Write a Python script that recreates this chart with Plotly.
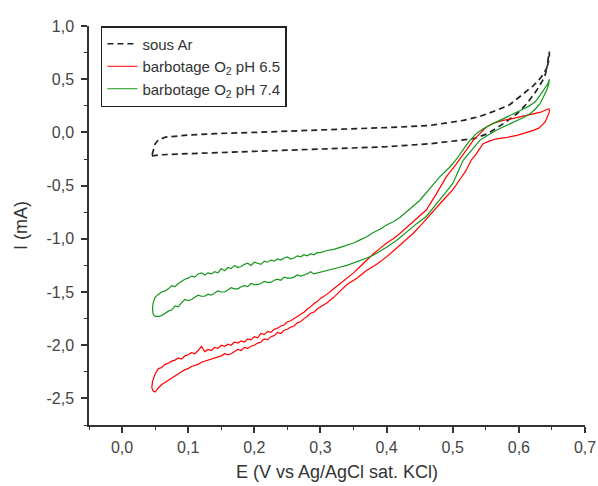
import plotly.graph_objects as go

# ---- data (E in V vs Ag/AgCl, I in mA) ----
ar_E = [0.045, 0.06, 0.10, 0.15, 0.20, 0.25, 0.30, 0.35, 0.40, 0.466, 0.506, 0.531, 0.553, 0.576, 0.597,
        0.612, 0.627, 0.639, 0.644, 0.646,
        0.646, 0.642, 0.634, 0.622, 0.607, 0.586, 0.566, 0.541, 0.516, 0.466, 0.42, 0.36, 0.30, 0.25,
        0.20, 0.14, 0.10, 0.066, 0.055, 0.05, 0.045]
ar_I = [-0.22, -0.21, -0.20, -0.19, -0.175, -0.165, -0.155, -0.145, -0.135, -0.106, -0.075, -0.06, -0.012, 0.08, 0.175,
        0.27, 0.395, 0.52, 0.646, 0.70,
        0.76, 0.60, 0.52, 0.44, 0.364, 0.26, 0.207, 0.15, 0.113, 0.066, 0.05, 0.035, 0.02, 0.008,
        0.0, -0.012, -0.025, -0.044, -0.07, -0.107, -0.22]

o2_74_E = [0.047, 0.050, 0.055, 0.060, 0.065, 0.070, 0.075, 0.080, 0.085, 0.090, 0.095, 0.100, 0.105, 0.110,
           0.115, 0.120, 0.125, 0.130, 0.135, 0.140, 0.145, 0.150, 0.155, 0.160, 0.165, 0.170, 0.175, 0.180,
           0.185, 0.190, 0.195, 0.200, 0.205, 0.210, 0.215, 0.220, 0.225, 0.230, 0.235,
           0.240, 0.245, 0.250, 0.255, 0.260, 0.265, 0.270, 0.275, 0.280, 0.285, 0.290, 0.295, 0.300, 0.310,
           0.320, 0.330, 0.340, 0.350, 0.360, 0.370,
           0.380, 0.390, 0.400, 0.410, 0.420, 0.435, 0.450, 0.465, 0.480, 0.495, 0.506, 0.516, 0.526, 0.536,
           0.546, 0.560, 0.571, 0.585, 0.597, 0.607, 0.617, 0.625, 0.632, 0.638, 0.644, 0.646,
           0.645, 0.642, 0.637, 0.632, 0.625, 0.617, 0.607, 0.597, 0.586, 0.576, 0.566, 0.556, 0.548, 0.541,
           0.533, 0.526, 0.516, 0.508, 0.500, 0.490, 0.480, 0.470, 0.460, 0.445, 0.430, 0.415, 0.400, 0.390,
           0.379, 0.370, 0.359, 0.350, 0.340, 0.329, 0.320, 0.310, 0.300, 0.295, 0.290, 0.285, 0.280, 0.275,
           0.270, 0.265, 0.260, 0.255, 0.250, 0.245,
           0.240, 0.235, 0.230, 0.225, 0.220, 0.215, 0.210, 0.205, 0.200, 0.195, 0.190, 0.185, 0.180, 0.175,
           0.170, 0.165, 0.160, 0.155, 0.150, 0.145, 0.140, 0.135, 0.130, 0.125, 0.120, 0.115, 0.110, 0.105,
           0.100, 0.095, 0.090, 0.085, 0.080, 0.075, 0.070, 0.065, 0.060, 0.055, 0.050, 0.047, 0.046, 0.047]
o2_74_I = [-1.60, -1.55, -1.52, -1.50, -1.49, -1.47, -1.44, -1.45, -1.42, -1.40, -1.38, -1.37, -1.35, -1.36,
           -1.33, -1.32, -1.34, -1.32, -1.33, -1.31, -1.32, -1.28, -1.30, -1.27, -1.28, -1.25, -1.27, -1.26,
           -1.24, -1.23, -1.25, -1.22, -1.23, -1.24, -1.21, -1.22, -1.20, -1.21, -1.19,
           -1.20, -1.18, -1.17, -1.19, -1.18, -1.16, -1.17, -1.15, -1.16, -1.14, -1.15, -1.13, -1.13, -1.11,
           -1.10, -1.08, -1.06, -1.04, -1.01, -0.98,
           -0.94, -0.91, -0.87, -0.84, -0.80, -0.72, -0.64, -0.53, -0.42, -0.33, -0.25, -0.16, -0.075, -0.01,
           0.035, 0.08, 0.113, 0.15, 0.19, 0.22, 0.254, 0.29, 0.348, 0.40, 0.46, 0.50,
           0.45, 0.395, 0.33, 0.27, 0.22, 0.176, 0.14, 0.113, 0.08, 0.05, 0.02, -0.012, -0.045, -0.075,
           -0.13, -0.185, -0.26, -0.37, -0.48, -0.56, -0.64, -0.72, -0.79, -0.86, -0.94, -1.016, -1.08, -1.12,
           -1.157, -1.18, -1.204, -1.23, -1.25, -1.267, -1.28, -1.30, -1.31, -1.32, -1.33, -1.31, -1.33, -1.34,
           -1.35, -1.34, -1.36, -1.37, -1.37, -1.36,
           -1.39, -1.38, -1.39, -1.41, -1.41, -1.40, -1.42, -1.43, -1.43, -1.42, -1.45, -1.44, -1.45, -1.47,
           -1.47, -1.46, -1.48, -1.50, -1.50, -1.49, -1.51, -1.53, -1.52, -1.54, -1.54, -1.53, -1.55, -1.57,
           -1.58, -1.57, -1.60, -1.64, -1.63, -1.67, -1.68, -1.70, -1.72, -1.73, -1.73, -1.71, -1.66, -1.60]

o2_65_E = [0.046, 0.050, 0.055, 0.060, 0.065, 0.070, 0.075, 0.080, 0.085, 0.090, 0.095, 0.100, 0.105, 0.110,
           0.115, 0.120, 0.125, 0.130, 0.135, 0.140, 0.145, 0.150, 0.155, 0.160, 0.165, 0.170, 0.175, 0.180,
           0.185, 0.190, 0.195, 0.200, 0.205, 0.210, 0.215, 0.220, 0.225, 0.230, 0.235,
           0.240, 0.245, 0.250, 0.255, 0.260, 0.265, 0.270, 0.275, 0.280, 0.285, 0.290, 0.295, 0.300, 0.310,
           0.320, 0.330, 0.340, 0.350, 0.360, 0.370,
           0.380, 0.390, 0.400, 0.410, 0.420, 0.440, 0.460, 0.475, 0.490, 0.505, 0.520, 0.531, 0.541, 0.551,
           0.563, 0.576, 0.590, 0.601, 0.612, 0.622, 0.633, 0.644, 0.646,
           0.646, 0.644, 0.640, 0.637, 0.630, 0.622, 0.610, 0.597, 0.580, 0.566, 0.556, 0.546, 0.540, 0.536,
           0.528, 0.520, 0.510, 0.500, 0.485, 0.470, 0.455, 0.440, 0.420, 0.400, 0.385, 0.369, 0.355, 0.340,
           0.330, 0.320, 0.310, 0.300, 0.295, 0.290, 0.285, 0.280, 0.275, 0.270, 0.265, 0.260, 0.255, 0.250,
           0.245, 0.240, 0.235, 0.230, 0.225, 0.220, 0.215, 0.210, 0.205, 0.200,
           0.195, 0.190, 0.185, 0.180, 0.175, 0.170, 0.165, 0.160, 0.155, 0.150, 0.145, 0.140, 0.135, 0.130,
           0.125, 0.120, 0.115, 0.110, 0.105, 0.100, 0.095, 0.090, 0.085, 0.080, 0.075, 0.070,
           0.065, 0.060, 0.055, 0.050, 0.047, 0.045, 0.046]
o2_65_I = [-2.34, -2.27, -2.22, -2.21, -2.18, -2.17, -2.15, -2.14, -2.12, -2.13, -2.10, -2.09, -2.07, -2.08,
           -2.05, -2.01, -2.06, -2.04, -2.05, -2.02, -2.03, -2.00, -2.01, -1.99, -2.00, -1.97, -1.98, -1.96,
           -1.97, -1.94, -1.95, -1.92, -1.93, -1.89, -1.90, -1.87, -1.88, -1.85, -1.84,
           -1.82, -1.81, -1.78, -1.77, -1.75, -1.73, -1.71, -1.69, -1.66, -1.64, -1.61, -1.59, -1.56, -1.52,
           -1.47, -1.42, -1.37, -1.32, -1.26, -1.20,
           -1.14, -1.09, -1.04, -1.00, -0.95, -0.84, -0.73, -0.58, -0.42, -0.30, -0.17, -0.075, -0.012, 0.05,
           0.09, 0.113, 0.13, 0.144, 0.157, 0.169, 0.19, 0.22, 0.22,
           0.19, 0.16, 0.10, 0.08, 0.04, 0.019, -0.005, -0.028, -0.05, -0.06, -0.08, -0.106, -0.16, -0.20,
           -0.26, -0.36, -0.45, -0.54, -0.64, -0.75, -0.85, -0.95, -1.06, -1.17, -1.24, -1.30, -1.37, -1.43,
           -1.49, -1.55, -1.60, -1.64, -1.66, -1.69, -1.70, -1.73, -1.75, -1.78, -1.79, -1.82, -1.83, -1.85,
           -1.86, -1.89, -1.88, -1.91, -1.92, -1.95, -1.94, -1.97, -1.98, -2.00,
           -2.01, -2.03, -2.02, -2.05, -2.04, -2.06, -2.08, -2.09, -2.08, -2.10, -2.11, -2.12, -2.13, -2.14,
           -2.15, -2.16, -2.18, -2.19, -2.20, -2.22, -2.23, -2.25, -2.27, -2.29, -2.31, -2.33,
           -2.35, -2.37, -2.40, -2.44, -2.43, -2.40, -2.34]

x_tickvals = [0.0, 0.1, 0.2, 0.3, 0.4, 0.5, 0.6, 0.7]
x_ticktext = ["0,0", "0,1", "0,2", "0,3", "0,4", "0,5", "0,6", "0,7"]
y_tickvals = [1.0, 0.5, 0.0, -0.5, -1.0, -1.5, -2.0, -2.5]
y_ticktext = ["1,0", "0,5", "0,0", "-0,5", "-1,0", "-1,5", "-2,0", "-2,5"]

FONT = "Arial, Liberation Sans, sans-serif"

fig = go.Figure()
fig.add_trace(go.Scatter(x=ar_E, y=ar_I, mode="lines", name="sous Ar",
                         line=dict(color="#222222", width=1.7, dash="6px,4px")))
fig.add_trace(go.Scatter(x=o2_65_E, y=o2_65_I, mode="lines", name="barbotage O<sub>2</sub> pH 6.5",
                         line=dict(color="#ff0000", width=1.2)))
fig.add_trace(go.Scatter(x=o2_74_E, y=o2_74_I, mode="lines", name="barbotage O<sub>2</sub> pH 7.4",
                         line=dict(color="#16961a", width=1.2)))

axis_common = dict(showgrid=False, zeroline=False, showline=True, linecolor="#333333", linewidth=1.5,
                   ticks="outside", ticklen=6, tickwidth=1.5, tickcolor="#333333",
                   tickfont=dict(family=FONT, size=16, color="#444444"), mirror=False,
                   automargin=False, ticklabeloverflow="allow")

fig.update_layout(
    width=598, height=486,
    margin=dict(l=89, r=13, t=26, b=61),
    paper_bgcolor="white", plot_bgcolor="white",
    font=dict(family=FONT, color="#333333"),
    showlegend=True,
    legend=dict(x=0.024, y=1.0, xanchor="left", yanchor="top",
                bgcolor="white", bordercolor="#222222", borderwidth=1.5,
                font=dict(family=FONT, size=15, color="#333333"),
                tracegroupgap=0, itemwidth=30),
    xaxis=dict(range=[-0.05, 0.7], tickvals=x_tickvals, ticktext=x_ticktext,
               minor=dict(ticks="outside", ticklen=3, tickwidth=1.2, tickcolor="#333333", dtick=0.05, tick0=0),
               title=dict(text="E (V vs Ag/AgCl sat. KCl)", font=dict(family=FONT, size=18, color="#333333"),
                          standoff=10),
               ticklabelstandoff=1,
               **axis_common),
    yaxis=dict(range=[-2.75, 1.0], tickvals=y_tickvals, ticktext=y_ticktext,
               minor=dict(ticks="outside", ticklen=3, tickwidth=1.2, tickcolor="#333333", dtick=0.25, tick0=0),
               title=dict(text="I (mA)", font=dict(family=FONT, size=18, color="#333333"), standoff=14),
               ticklabelstandoff=4,
               **axis_common),
)

# remove the default page margin so the figure fills the window exactly
fig.write_html("out.html", config={"displayModeBar": False},
               post_script="document.body.style.margin='0';document.body.style.overflow='hidden';")
